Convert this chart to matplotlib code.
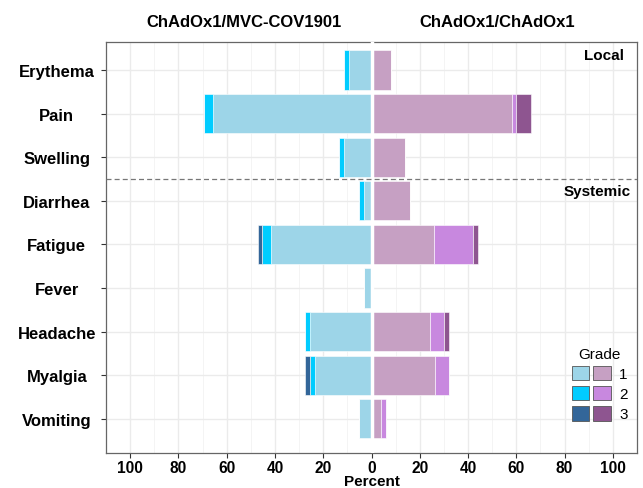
import matplotlib.pyplot as plt
from matplotlib.patches import Patch
from matplotlib.legend_handler import HandlerTuple
import numpy as np

plt.rcParams["font.family"] = ["Liberation Sans", "DejaVu Sans"]

symptoms = ["Erythema", "Pain", "Swelling", "Diarrhea", "Fatigue",
            "Fever", "Headache", "Myalgia", "Vomiting"]

# ChAdOx1/MVC-COV1901 (drawn to the left), percent by grade
mvc_g1 = [9.5, 65.5, 11.5, 3.3, 41.5, 3.3, 25.5, 23.5, 5.3]
mvc_g2 = [2.0, 4.0, 2.0, 2.0, 3.7, 0.0, 2.0, 2.0, 0.0]
mvc_g3 = [0.0, 0.0, 0.0, 0.0, 2.0, 0.0, 0.0, 2.0, 0.0]

# ChAdOx1/ChAdOx1 (drawn to the right), percent by grade
az_g1 = [8.0, 58.0, 14.0, 16.0, 26.0, 0.0, 24.3, 26.3, 4.0]
az_g2 = [0.0, 2.0, 0.0, 0.0, 16.0, 0.0, 5.8, 5.8, 2.0]
az_g3 = [0.0, 6.0, 0.0, 0.0, 2.0, 0.0, 2.0, 0.0, 0.0]

blues = ["#9dd5e8", "#00ccff", "#336699"]
purples = ["#c6a0c3", "#c888df", "#8e5590"]
grades = ["1", "2", "3"]

y = np.arange(len(symptoms))
h = 0.9

fig = plt.figure(figsize=(6.43, 4.89), dpi=100)
ax = fig.add_axes([0.165, 0.072, 0.8257, 0.840])

left = np.zeros(len(y))
for vals, c in zip([mvc_g1, mvc_g2, mvc_g3], blues):
    v = np.array(vals)
    ax.barh(y, -v, left=-left, height=h, color=c, edgecolor="white", lw=0.4, zorder=2)
    left += v

right = np.zeros(len(y))
for vals, c in zip([az_g1, az_g2, az_g3], purples):
    v = np.array(vals)
    ax.barh(y, v, left=right, height=h, color=c, edgecolor="white", lw=0.4, zorder=2)
    right += v

ax.axvline(0, color="white", lw=2.5, zorder=3)
ax.axhline(2.5, color="#777777", lw=0.9, ls=(0, (4, 2.5)), zorder=3)

ax.set_xlim(-109.5, 109.5)
ax.set_ylim(8.78, -0.64)
xt = np.arange(-100, 101, 20)
ax.set_xticks(xt)
ax.set_xticklabels([str(abs(t)) for t in xt], fontsize=11.2, fontweight="bold")
ax.set_xticks(np.arange(-110, 111, 10), minor=True)
ax.set_yticks(y)
ax.set_yticklabels(symptoms, fontsize=12, fontweight="bold")
for lab in ax.get_yticklabels():
    lab.set_horizontalalignment("center")
ax.tick_params(axis="y", pad=32, length=3.5, color="#333333")
ax.tick_params(axis="x", pad=1.5, length=3.5, color="#333333")
ax.tick_params(axis="x", which="minor", length=0)

ax.grid(True, which="major", color="#ebebeb", lw=1.0, zorder=0)
ax.grid(True, which="minor", axis="x", color="#f2f2f2", lw=0.6, zorder=0)
ax.set_axisbelow(True)
for s in ax.spines.values():
    s.set_color("#666666")
    s.set_linewidth(0.9)

ax.set_xlabel("Percent", fontsize=11, fontweight="bold", labelpad=-0.5)

ax.text(-53, 1.05, "ChAdOx1/MVC-COV1901", transform=ax.get_xaxis_transform(),
        ha="center", va="center", fontsize=12, fontweight="bold")
ax.text(52, 1.05, "ChAdOx1/ChAdOx1", transform=ax.get_xaxis_transform(),
        ha="center", va="center", fontsize=12, fontweight="bold")
ax.text(104.5, -0.35, "Local", ha="right", va="center", fontsize=11, fontweight="bold")
ax.text(107.5, 2.78, "Systemic", ha="right", va="center", fontsize=11, fontweight="bold")

handles = [(Patch(fc=b, ec="#555555", lw=0.6), Patch(fc=p, ec="#555555", lw=0.6))
           for b, p in zip(blues, purples)]
leg = ax.legend(handles, grades, title="Grade", loc="lower right",
                bbox_to_anchor=(1.008, 0.043), frameon=False, fontsize=11,
                title_fontsize=11, handlelength=2.55, handleheight=1.1,
                labelspacing=0.3, handletextpad=0.55,
                handler_map={tuple: HandlerTuple(ndivide=None, pad=0.25)})

fig.savefig("out.png", dpi=100)
